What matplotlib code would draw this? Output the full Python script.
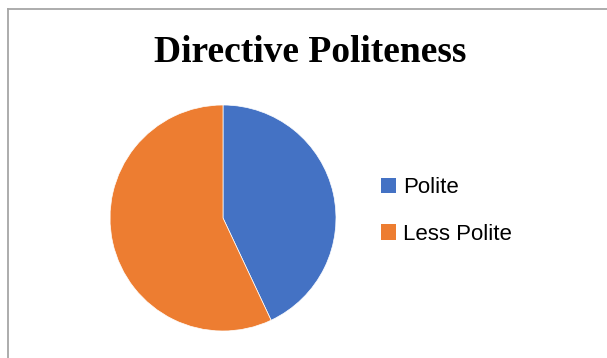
import matplotlib
matplotlib.use("Agg")
from matplotlib import pyplot as plt
from matplotlib.lines import Line2D
from matplotlib.patches import Patch

# data
labels = ["Polite", "Less Polite"]
values = [43, 57]
colors = ["#4472C4", "#ED7D31"]
title = "Directive Politeness"

W, H = 607, 358
fig = plt.figure(figsize=(W / 100, H / 100), dpi=100)

# pie axes: center (223, 218), radius 113 px
cx, cy, r = 223, 218, 113
ax = fig.add_axes([(cx - r) / W, (H - cy - r) / H, 2 * r / W, 2 * r / H])
ax.pie(values, colors=colors, startangle=90, counterclock=False, radius=1,
       wedgeprops=dict(linewidth=0.5, edgecolor="white"))
ax.set_xlim(-1, 1)
ax.set_ylim(-1, 1)
ax.set_aspect("equal")
ax.axis("off")

fig.text(310 / W, 1 - 53 / H, title, ha="center", va="center",
         fontsize=27, fontweight="bold", family="Liberation Serif")

# legend
handles = [Patch(facecolor=c, edgecolor="none") for c in colors]
fig.legend(handles, labels, loc="center left", bbox_to_anchor=(365 / W, 1 - 211 / H),
           frameon=False, prop=dict(family="Liberation Sans", size=16),
           handlelength=0.68, handleheight=0.68, handletextpad=0.32, labelspacing=1.15,
           borderpad=0.2)

# chart frame (left and top edges visible)
grey = "#A6A6A6"
fig.add_artist(Line2D([7.5 / W, 7.5 / W], [0, 1 - 9 / H], color=grey, lw=1.3,
                      transform=fig.transFigure))
fig.add_artist(Line2D([7.5 / W, 1], [1 - 9 / H, 1 - 9 / H], color=grey, lw=1.3,
                      transform=fig.transFigure))

fig.savefig("out.png", dpi=100)
